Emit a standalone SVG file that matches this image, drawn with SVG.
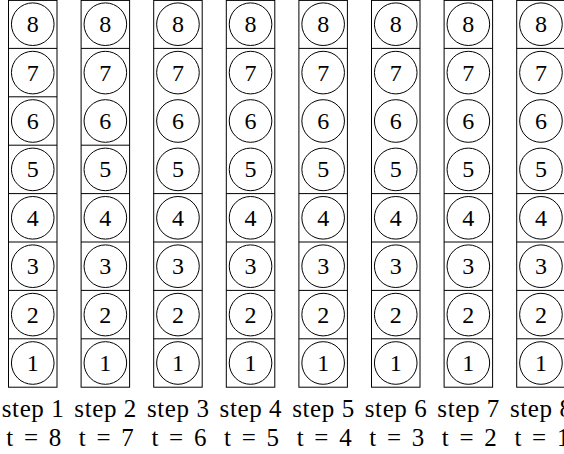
<svg xmlns="http://www.w3.org/2000/svg" width="564" height="454" viewBox="0 0 564 454">
<style>
.box{fill:#fff;stroke:#000;stroke-width:1}
.div{stroke:#000;stroke-width:1}
.node circle{fill:none;stroke:#000;stroke-width:1}
.node text{font-family:"Liberation Serif","Times New Roman",serif;font-size:24px;text-anchor:middle;fill:#000}
.lbl{font-family:"Liberation Serif","Times New Roman",serif;font-size:25px;text-anchor:middle;fill:#000}
</style>
<g id="step1" transform="translate(32.75,0)">
<rect class="box" x="-24.25" y="0.4" width="48.5" height="386.8"/>
<path class="div" d="M-24.25 48.4H24.25M-24.25 96.8H24.25M-24.25 145.2H24.25M-24.25 193.6H24.25M-24.25 242H24.25M-24.25 290.4H24.25M-24.25 338.8H24.25"/>
<g id="s1n8" class="node"><circle cx="0" cy="24.2" r="21.3"/><text x="0" y="32.2">8</text></g>
<g id="s1n7" class="node"><circle cx="0" cy="72.6" r="21.3"/><text x="0" y="80.6">7</text></g>
<g id="s1n6" class="node"><circle cx="0" cy="121" r="21.3"/><text x="0" y="129">6</text></g>
<g id="s1n5" class="node"><circle cx="0" cy="169.4" r="21.3"/><text x="0" y="177.4">5</text></g>
<g id="s1n4" class="node"><circle cx="0" cy="217.8" r="21.3"/><text x="0" y="225.8">4</text></g>
<g id="s1n3" class="node"><circle cx="0" cy="266.2" r="21.3"/><text x="0" y="274.2">3</text></g>
<g id="s1n2" class="node"><circle cx="0" cy="314.6" r="21.3"/><text x="0" y="322.6">2</text></g>
<g id="s1n1" class="node"><circle cx="0" cy="363" r="21.3"/><text x="0" y="371">1</text></g>
<text class="lbl" x="0" y="416.5" textLength="62" lengthAdjust="spacing">step 1</text>
<text class="lbl" x="1" y="445.5" textLength="55" lengthAdjust="spacing">t = 8</text>
</g>
<g id="step2" transform="translate(105.35,0)">
<rect class="box" x="-24.25" y="0.4" width="48.5" height="386.8"/>
<path class="div" d="M-24.25 48.4H24.25M-24.25 145.2H24.25M-24.25 193.6H24.25M-24.25 242H24.25M-24.25 290.4H24.25M-24.25 338.8H24.25"/>
<g id="s2n8" class="node"><circle cx="0" cy="24.2" r="21.3"/><text x="0" y="32.2">8</text></g>
<g id="s2n7" class="node"><circle cx="0" cy="72.6" r="21.3"/><text x="0" y="80.6">7</text></g>
<g id="s2n6" class="node"><circle cx="0" cy="121" r="21.3"/><text x="0" y="129">6</text></g>
<g id="s2n5" class="node"><circle cx="0" cy="169.4" r="21.3"/><text x="0" y="177.4">5</text></g>
<g id="s2n4" class="node"><circle cx="0" cy="217.8" r="21.3"/><text x="0" y="225.8">4</text></g>
<g id="s2n3" class="node"><circle cx="0" cy="266.2" r="21.3"/><text x="0" y="274.2">3</text></g>
<g id="s2n2" class="node"><circle cx="0" cy="314.6" r="21.3"/><text x="0" y="322.6">2</text></g>
<g id="s2n1" class="node"><circle cx="0" cy="363" r="21.3"/><text x="0" y="371">1</text></g>
<text class="lbl" x="0" y="416.5" textLength="62" lengthAdjust="spacing">step 2</text>
<text class="lbl" x="1" y="445.5" textLength="55" lengthAdjust="spacing">t = 7</text>
</g>
<g id="step3" transform="translate(177.95,0)">
<rect class="box" x="-24.25" y="0.4" width="48.5" height="386.8"/>
<path class="div" d="M-24.25 48.4H24.25M-24.25 193.6H24.25M-24.25 242H24.25M-24.25 290.4H24.25M-24.25 338.8H24.25"/>
<g id="s3n8" class="node"><circle cx="0" cy="24.2" r="21.3"/><text x="0" y="32.2">8</text></g>
<g id="s3n7" class="node"><circle cx="0" cy="72.6" r="21.3"/><text x="0" y="80.6">7</text></g>
<g id="s3n6" class="node"><circle cx="0" cy="121" r="21.3"/><text x="0" y="129">6</text></g>
<g id="s3n5" class="node"><circle cx="0" cy="169.4" r="21.3"/><text x="0" y="177.4">5</text></g>
<g id="s3n4" class="node"><circle cx="0" cy="217.8" r="21.3"/><text x="0" y="225.8">4</text></g>
<g id="s3n3" class="node"><circle cx="0" cy="266.2" r="21.3"/><text x="0" y="274.2">3</text></g>
<g id="s3n2" class="node"><circle cx="0" cy="314.6" r="21.3"/><text x="0" y="322.6">2</text></g>
<g id="s3n1" class="node"><circle cx="0" cy="363" r="21.3"/><text x="0" y="371">1</text></g>
<text class="lbl" x="0" y="416.5" textLength="62" lengthAdjust="spacing">step 3</text>
<text class="lbl" x="1" y="445.5" textLength="55" lengthAdjust="spacing">t = 6</text>
</g>
<g id="step4" transform="translate(250.55,0)">
<rect class="box" x="-24.25" y="0.4" width="48.5" height="386.8"/>
<path class="div" d="M-24.25 48.4H24.25M-24.25 193.6H24.25M-24.25 242H24.25M-24.25 290.4H24.25M-24.25 338.8H24.25"/>
<g id="s4n8" class="node"><circle cx="0" cy="24.2" r="21.3"/><text x="0" y="32.2">8</text></g>
<g id="s4n7" class="node"><circle cx="0" cy="72.6" r="21.3"/><text x="0" y="80.6">7</text></g>
<g id="s4n6" class="node"><circle cx="0" cy="121" r="21.3"/><text x="0" y="129">6</text></g>
<g id="s4n5" class="node"><circle cx="0" cy="169.4" r="21.3"/><text x="0" y="177.4">5</text></g>
<g id="s4n4" class="node"><circle cx="0" cy="217.8" r="21.3"/><text x="0" y="225.8">4</text></g>
<g id="s4n3" class="node"><circle cx="0" cy="266.2" r="21.3"/><text x="0" y="274.2">3</text></g>
<g id="s4n2" class="node"><circle cx="0" cy="314.6" r="21.3"/><text x="0" y="322.6">2</text></g>
<g id="s4n1" class="node"><circle cx="0" cy="363" r="21.3"/><text x="0" y="371">1</text></g>
<text class="lbl" x="0" y="416.5" textLength="62" lengthAdjust="spacing">step 4</text>
<text class="lbl" x="1" y="445.5" textLength="55" lengthAdjust="spacing">t = 5</text>
</g>
<g id="step5" transform="translate(323.15,0)">
<rect class="box" x="-24.25" y="0.4" width="48.5" height="386.8"/>
<path class="div" d="M-24.25 48.4H24.25M-24.25 193.6H24.25M-24.25 242H24.25M-24.25 290.4H24.25M-24.25 338.8H24.25"/>
<g id="s5n8" class="node"><circle cx="0" cy="24.2" r="21.3"/><text x="0" y="32.2">8</text></g>
<g id="s5n7" class="node"><circle cx="0" cy="72.6" r="21.3"/><text x="0" y="80.6">7</text></g>
<g id="s5n6" class="node"><circle cx="0" cy="121" r="21.3"/><text x="0" y="129">6</text></g>
<g id="s5n5" class="node"><circle cx="0" cy="169.4" r="21.3"/><text x="0" y="177.4">5</text></g>
<g id="s5n4" class="node"><circle cx="0" cy="217.8" r="21.3"/><text x="0" y="225.8">4</text></g>
<g id="s5n3" class="node"><circle cx="0" cy="266.2" r="21.3"/><text x="0" y="274.2">3</text></g>
<g id="s5n2" class="node"><circle cx="0" cy="314.6" r="21.3"/><text x="0" y="322.6">2</text></g>
<g id="s5n1" class="node"><circle cx="0" cy="363" r="21.3"/><text x="0" y="371">1</text></g>
<text class="lbl" x="0" y="416.5" textLength="62" lengthAdjust="spacing">step 5</text>
<text class="lbl" x="1" y="445.5" textLength="55" lengthAdjust="spacing">t = 4</text>
</g>
<g id="step6" transform="translate(395.75,0)">
<rect class="box" x="-24.25" y="0.4" width="48.5" height="386.8"/>
<path class="div" d="M-24.25 48.4H24.25M-24.25 193.6H24.25M-24.25 242H24.25M-24.25 290.4H24.25M-24.25 338.8H24.25"/>
<g id="s6n8" class="node"><circle cx="0" cy="24.2" r="21.3"/><text x="0" y="32.2">8</text></g>
<g id="s6n7" class="node"><circle cx="0" cy="72.6" r="21.3"/><text x="0" y="80.6">7</text></g>
<g id="s6n6" class="node"><circle cx="0" cy="121" r="21.3"/><text x="0" y="129">6</text></g>
<g id="s6n5" class="node"><circle cx="0" cy="169.4" r="21.3"/><text x="0" y="177.4">5</text></g>
<g id="s6n4" class="node"><circle cx="0" cy="217.8" r="21.3"/><text x="0" y="225.8">4</text></g>
<g id="s6n3" class="node"><circle cx="0" cy="266.2" r="21.3"/><text x="0" y="274.2">3</text></g>
<g id="s6n2" class="node"><circle cx="0" cy="314.6" r="21.3"/><text x="0" y="322.6">2</text></g>
<g id="s6n1" class="node"><circle cx="0" cy="363" r="21.3"/><text x="0" y="371">1</text></g>
<text class="lbl" x="0" y="416.5" textLength="62" lengthAdjust="spacing">step 6</text>
<text class="lbl" x="1" y="445.5" textLength="55" lengthAdjust="spacing">t = 3</text>
</g>
<g id="step7" transform="translate(468.35,0)">
<rect class="box" x="-24.25" y="0.4" width="48.5" height="386.8"/>
<path class="div" d="M-24.25 48.4H24.25M-24.25 193.6H24.25M-24.25 242H24.25M-24.25 290.4H24.25M-24.25 338.8H24.25"/>
<g id="s7n8" class="node"><circle cx="0" cy="24.2" r="21.3"/><text x="0" y="32.2">8</text></g>
<g id="s7n7" class="node"><circle cx="0" cy="72.6" r="21.3"/><text x="0" y="80.6">7</text></g>
<g id="s7n6" class="node"><circle cx="0" cy="121" r="21.3"/><text x="0" y="129">6</text></g>
<g id="s7n5" class="node"><circle cx="0" cy="169.4" r="21.3"/><text x="0" y="177.4">5</text></g>
<g id="s7n4" class="node"><circle cx="0" cy="217.8" r="21.3"/><text x="0" y="225.8">4</text></g>
<g id="s7n3" class="node"><circle cx="0" cy="266.2" r="21.3"/><text x="0" y="274.2">3</text></g>
<g id="s7n2" class="node"><circle cx="0" cy="314.6" r="21.3"/><text x="0" y="322.6">2</text></g>
<g id="s7n1" class="node"><circle cx="0" cy="363" r="21.3"/><text x="0" y="371">1</text></g>
<text class="lbl" x="0" y="416.5" textLength="62" lengthAdjust="spacing">step 7</text>
<text class="lbl" x="1" y="445.5" textLength="55" lengthAdjust="spacing">t = 2</text>
</g>
<g id="step8" transform="translate(540.95,0)">
<rect class="box" x="-24.25" y="0.4" width="48.5" height="386.8"/>
<path class="div" d="M-24.25 48.4H24.25M-24.25 193.6H24.25M-24.25 242H24.25M-24.25 290.4H24.25M-24.25 338.8H24.25"/>
<g id="s8n8" class="node"><circle cx="0" cy="24.2" r="21.3"/><text x="0" y="32.2">8</text></g>
<g id="s8n7" class="node"><circle cx="0" cy="72.6" r="21.3"/><text x="0" y="80.6">7</text></g>
<g id="s8n6" class="node"><circle cx="0" cy="121" r="21.3"/><text x="0" y="129">6</text></g>
<g id="s8n5" class="node"><circle cx="0" cy="169.4" r="21.3"/><text x="0" y="177.4">5</text></g>
<g id="s8n4" class="node"><circle cx="0" cy="217.8" r="21.3"/><text x="0" y="225.8">4</text></g>
<g id="s8n3" class="node"><circle cx="0" cy="266.2" r="21.3"/><text x="0" y="274.2">3</text></g>
<g id="s8n2" class="node"><circle cx="0" cy="314.6" r="21.3"/><text x="0" y="322.6">2</text></g>
<g id="s8n1" class="node"><circle cx="0" cy="363" r="21.3"/><text x="0" y="371">1</text></g>
<text class="lbl" x="0" y="416.5" textLength="62" lengthAdjust="spacing">step 8</text>
<text class="lbl" x="1" y="445.5" textLength="55" lengthAdjust="spacing">t = 1</text>
</g>
</svg>
